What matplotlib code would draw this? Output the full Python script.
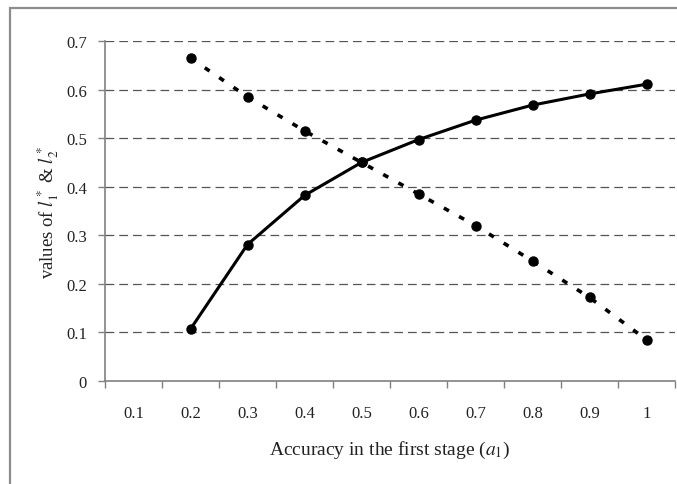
import matplotlib
matplotlib.use("Agg")
import matplotlib.pyplot as plt
from matplotlib.patches import Rectangle
import numpy as np

# data
categories = [0.1, 0.2, 0.3, 0.4, 0.5, 0.6, 0.7, 0.8, 0.9, 1.0]
cat_labels = ["0.1", "0.2", "0.3", "0.4", "0.5", "0.6", "0.7", "0.8", "0.9", "1"]
a1 = [0.2, 0.3, 0.4, 0.5, 0.6, 0.7, 0.8, 0.9, 1.0]
l1_star = [0.107, 0.281, 0.382, 0.450, 0.497, 0.537, 0.568, 0.591, 0.611]
l2_star = [0.665, 0.585, 0.515, 0.450, 0.385, 0.320, 0.247, 0.172, 0.085]
y_ticks = [0, 0.1, 0.2, 0.3, 0.4, 0.5, 0.6, 0.7]
y_labels = ["0", "0.1", "0.2", "0.3", "0.4", "0.5", "0.6", "0.7"]

plt.rcParams['font.family'] = ['Liberation Serif', 'DejaVu Serif']
plt.rcParams['mathtext.fontset'] = 'stix'

fig = plt.figure(figsize=(6.77, 4.85), dpi=100)
ax = fig.add_axes([105/677, 1 - 382/485, (675 - 105)/677, (382 - 42)/485])

# figure frame
fig.patches.append(Rectangle((10/677, -0.2), 1.2, 1.2 - 9/485, transform=fig.transFigure,
                             fill=False, edgecolor='#8c8c8c', lw=1.6, zorder=0))

ax.set_xlim(0.05, 1.05)
ax.set_ylim(0, 0.7)

for y in y_ticks[1:]:
    ax.axhline(y, color='#555555', lw=0.9, dashes=(7, 4), zorder=1)

ax.plot(a1, l1_star, color='black', lw=2.2, marker='o', ms=6.5, zorder=3)
ax.plot(a1, l2_star, color='black', lw=2.6, dashes=(1.6, 3.2), marker='o', ms=6.5, zorder=3)

# x axis: ticks at category boundaries, labels at centers
bounds = [c - 0.05 for c in categories] + [categories[-1] + 0.05]
ax.set_xticks(bounds)
ax.set_xticklabels([])
ax.set_xticks(categories, minor=True)
ax.set_xticklabels(cat_labels, minor=True)
ax.tick_params(axis='x', which='major', length=5, width=1, color='#808080', direction='out')
ax.tick_params(axis='x', which='minor', length=0, pad=17, labelsize=12, labelcolor='#222222')

ax.set_yticks(y_ticks)
ax.set_yticklabels(y_labels)
ax.tick_params(axis='y', length=5, width=1, color='#808080', direction='out', labelsize=12,
               labelcolor='#222222', pad=8)

for s in ['top', 'right']:
    ax.spines[s].set_visible(False)
for s in ['left', 'bottom']:
    ax.spines[s].set_color('#808080')
    ax.spines[s].set_linewidth(1.2)

ax.set_xlabel(r'Accuracy in the first stage ($a_1$)', fontsize=14, labelpad=13, color='#222222')
ax.set_ylabel(r'values of $l_1^*$ & $l_2^*$', fontsize=13.5, labelpad=4, color='#222222')

fig.savefig('out.png', dpi=100)
